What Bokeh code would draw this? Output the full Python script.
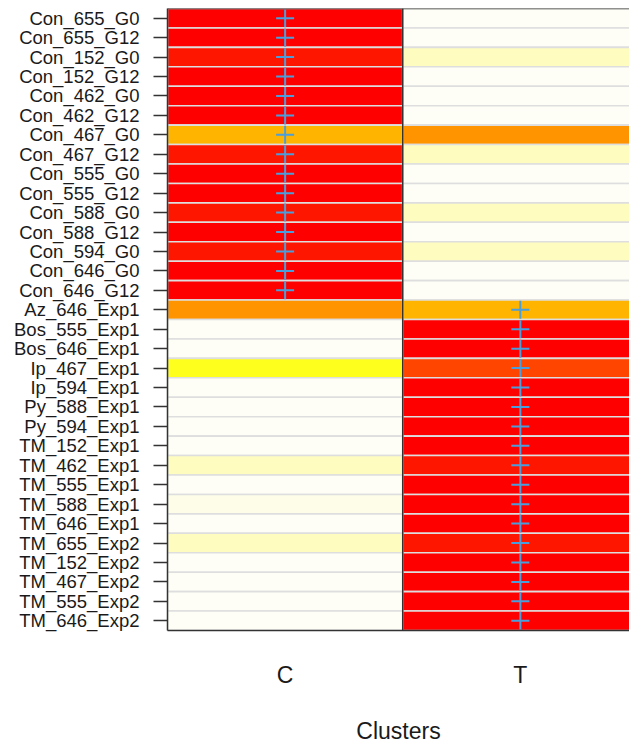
import numpy as np
from bokeh.plotting import figure
from bokeh.models import (ColumnDataSource, FactorRange, Range1d, LinearColorMapper,
                          FixedTicker, Span)
from bokeh.embed import file_html
from bokeh.resources import INLINE

# ---------------- data ----------------
samples = [
    "Con_655_G0", "Con_655_G12", "Con_152_G0", "Con_152_G12", "Con_462_G0",
    "Con_462_G12", "Con_467_G0", "Con_467_G12", "Con_555_G0", "Con_555_G12",
    "Con_588_G0", "Con_588_G12", "Con_594_G0", "Con_646_G0", "Con_646_G12",
    "Az_646_Exp1", "Bos_555_Exp1", "Bos_646_Exp1", "Ip_467_Exp1", "Ip_594_Exp1",
    "Py_588_Exp1", "Py_594_Exp1", "TM_152_Exp1", "TM_462_Exp1", "TM_555_Exp1",
    "TM_588_Exp1", "TM_646_Exp1", "TM_655_Exp2", "TM_152_Exp2", "TM_467_Exp2",
    "TM_555_Exp2", "TM_646_Exp2",
]
clusters = ["C", "T"]
cluster_labels = {0: "C", 1: "T"}

value_C = [1.00, 1.00, 0.94, 1.00, 1.00,
           1.00, 0.40, 0.94, 1.00, 1.00,
           0.94, 1.00, 0.94, 1.00, 1.00,
           0.55, 0.00, 0.00, 0.20, 0.00,
           0.00, 0.00, 0.00, 0.05, 0.00,
           0.015, 0.00, 0.05, 0.00, 0.00,
           0.00, 0.00]
value_T = [0.00, 0.00, 0.05, 0.00, 0.00,
           0.00, 0.55, 0.05, 0.00, 0.00,
           0.05, 0.00, 0.05, 0.00, 0.00,
           0.40, 1.00, 1.00, 0.80, 1.00,
           1.00, 1.00, 1.00, 0.94, 1.00,
           1.00, 1.00, 0.94, 1.00, 1.00,
           1.00, 1.00]
# assigned cluster index (0 = C, 1 = T)
assigned = [0] * 15 + [1] * 17

# ---------------- styling ----------------
stops_v = [0.0, 0.05, 0.20, 0.40, 0.55, 0.80, 0.94, 1.0]
stops_c = ["#FEFEF6", "#FEFDBC", "#FFFF1E", "#FFB400", "#FF9400", "#FF4500", "#FF1600", "#FF0000"]

def hex2rgb(h):
    h = h.lstrip("#")
    return [int(h[i:i + 2], 16) for i in (0, 2, 4)]

rgb = np.array([hex2rgb(c) for c in stops_c], dtype=float)
grid = np.linspace(0, 1, 256)
palette = []
for g in grid:
    r = np.interp(g, stops_v, rgb[:, 0])
    gg = np.interp(g, stops_v, rgb[:, 1])
    b = np.interp(g, stops_v, rgb[:, 2])
    palette.append("#%02X%02X%02X" % (int(round(r)), int(round(gg)), int(round(b))))
mapper = LinearColorMapper(palette=palette, low=0, high=1)

xs, ys, vals = [], [], []
for i, s in enumerate(samples):
    xs += [0, 1]
    ys += [s, s]
    vals += [value_C[i], value_T[i]]
cells = ColumnDataSource(dict(x=xs, y=ys, val=vals))
marks = ColumnDataSource(dict(x=assigned, y=samples))

p = figure(width=629, height=746, output_backend="svg", toolbar_location=None,
           x_range=Range1d(-0.5, 1.464), y_range=FactorRange(factors=samples[::-1]),
           min_border_left=167, min_border_right=0, min_border_top=8,
           min_border_bottom=116)
p.outline_line_color = None
p.xgrid.visible = False
p.ygrid.visible = False
p.background_fill_color = "white"

p.rect(x="x", y="y", width=1, height=1, source=cells,
       fill_color={"field": "val", "transform": mapper},
       line_color="#DEDEDE", line_width=1.6)
p.scatter(x="x", y="y", source=marks, marker="cross", size=18,
          line_color="#4A9EDB", line_width=2)

p.add_layout(Span(location=0.5, dimension="height", line_color="#333333", line_width=1.5))
p.add_layout(Span(location=len(samples), dimension="width", line_color="#333333", line_width=1.5))

font = "Liberation Sans"
ya = p.yaxis[0]
ya.axis_line_color = "#333333"
ya.axis_line_width = 1.5
ya.major_tick_out = 14
ya.major_tick_in = 0
ya.major_tick_line_color = "#333333"
ya.major_tick_line_width = 1.5
ya.major_label_standoff = 14
ya.major_label_text_font = font
ya.major_label_text_font_size = "18.5px"
ya.major_label_text_color = "#1a1a1a"

xa = p.xaxis[0]
xa.ticker = FixedTicker(ticks=[0, 1])
xa.major_label_overrides = cluster_labels
xa.axis_line_color = "#333333"
xa.axis_line_width = 1.5
xa.major_tick_out = 0
xa.major_tick_in = 0
xa.minor_tick_out = 0
xa.minor_tick_in = 0
xa.major_label_standoff = 31
xa.major_label_text_font = font
xa.major_label_text_font_size = "23px"
xa.major_label_text_color = "#1a1a1a"
xa.axis_label = "Clusters"
xa.axis_label_standoff = 27
xa.axis_label_text_font = font
xa.axis_label_text_font_size = "23px"
xa.axis_label_text_font_style = "normal"
xa.axis_label_text_color = "#1a1a1a"

open("out.html", "w").write(file_html(p, INLINE))
